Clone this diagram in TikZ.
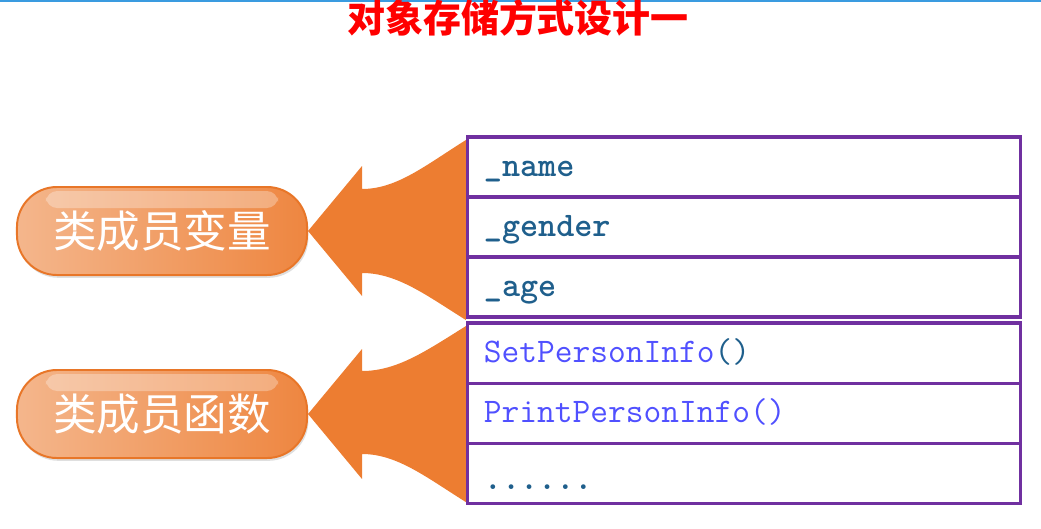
\documentclass[tikz,border=0pt]{standalone}
\usepackage{fontspec}
\usetikzlibrary{positioning,calc,shadows,backgrounds}
\newfontfamily\cjk{Noto Sans CJK SC}
\definecolor{c1}{RGB}{237,125,49}
\definecolor{c2}{RGB}{244,182,140}
\definecolor{c3}{RGB}{238,134,64}
\definecolor{c4}{RGB}{232,118,40}
\definecolor{c5}{RGB}{112,48,160}
\definecolor{c6}{RGB}{31,95,140}
\definecolor{c7}{RGB}{80,80,255}
\definecolor{c8}{RGB}{58,155,224}

\begin{document}
\begin{tikzpicture}[
        x=0.025cm, y=-0.025cm,
        pill/.style={rectangle, rounded corners=1cm, minimum width=7.25cm, minimum height=2.2cm,
            left color=c2, right color=c3, draw=c4, line width=1.4pt,
            drop shadow={shadow xshift=1pt, shadow yshift=-2pt, opacity=0.25},
            font=\cjk\fontsize{31pt}{34pt}\selectfont, text=white},
        cell/.style={rectangle, draw=c5, line width=2.2pt, minimum height=1.5cm,
            outer sep=0pt, text width=13cm, inner xsep=0.4cm, align=left,
            text height=0.45cm, text depth=0cm,
            font=\ttfamily\fontsize{24.5pt}{26pt}\selectfont},
        arw/.style={fill=c1},
        node distance=0cm,
    ]
        \useasboundingbox (0,0) rectangle (1041,528);
        \draw[c8, line width=1.5pt] (0,1) -- (1041,1); % top bar

        % Title
        \node[font=\cjk\bfseries\fontsize{27pt}{30pt}\selectfont, text=red] (TITLE) at (518,18) {对象存储方式设计一};

        % Left labels
        \node[pill] (VAR) at (162,231) {类成员变量};
        \node[pill] (FUN) at (162,414) {类成员函数};
        \fill[white, opacity=0.3, rounded corners=8pt] ($(VAR.north west)+(30,5)$) rectangle ($(VAR.north east)+(-30,22)$);
        \fill[white, opacity=0.3, rounded corners=8pt] ($(FUN.north west)+(30,5)$) rectangle ($(FUN.north east)+(-30,22)$);

        % Table (members)
        \node[cell, text=c6] (NAME) at (744,167) {\bfseries\_name};
        \node[cell, text=c6, below=of NAME] (GENDER) {\bfseries\_gender};
        \node[cell, text=c6, below=of GENDER] (AGE) {\bfseries\_age};
        \node[cell, text=c7, below=0.15cm of AGE] (SET) {SetPersonInfo\textcolor{c6}{()}};
        \node[cell, text=c7, below=of SET] (PRINT) {PrintPersonInfo()};
        \node[cell, text=c6, below=of PRINT] (MORE) {\raisebox{-0.18cm}{\bfseries......}};

        % Arrows (behind the table)
        \begin{scope}[on background layer]
        \fill[arw] (VAR.east) -- ++(54,-65) -- ++(0,23)
            .. controls +(35,0) and +(-40,25) .. ($(NAME.north west)+(-2,3)$)
            -- ($(AGE.south west)+(-2,3)$)
            .. controls +(-40,-25) and +(35,0) .. ($(VAR.east)+(54,42)$)
            -- ++(0,23) -- cycle;
        \fill[arw] (FUN.east) -- ++(54,-65) -- ++(0,22)
            .. controls +(35,0) and +(-40,25) .. ($(SET.north west)+(-2,3)$)
            -- ($(MORE.south west)+(-2,-1)$)
            .. controls +(-40,-25) and +(35,0) .. ($(FUN.east)+(54,40)$)
            -- ++(0,25) -- cycle;
        \end{scope}
    \end{tikzpicture}
\end{document}
